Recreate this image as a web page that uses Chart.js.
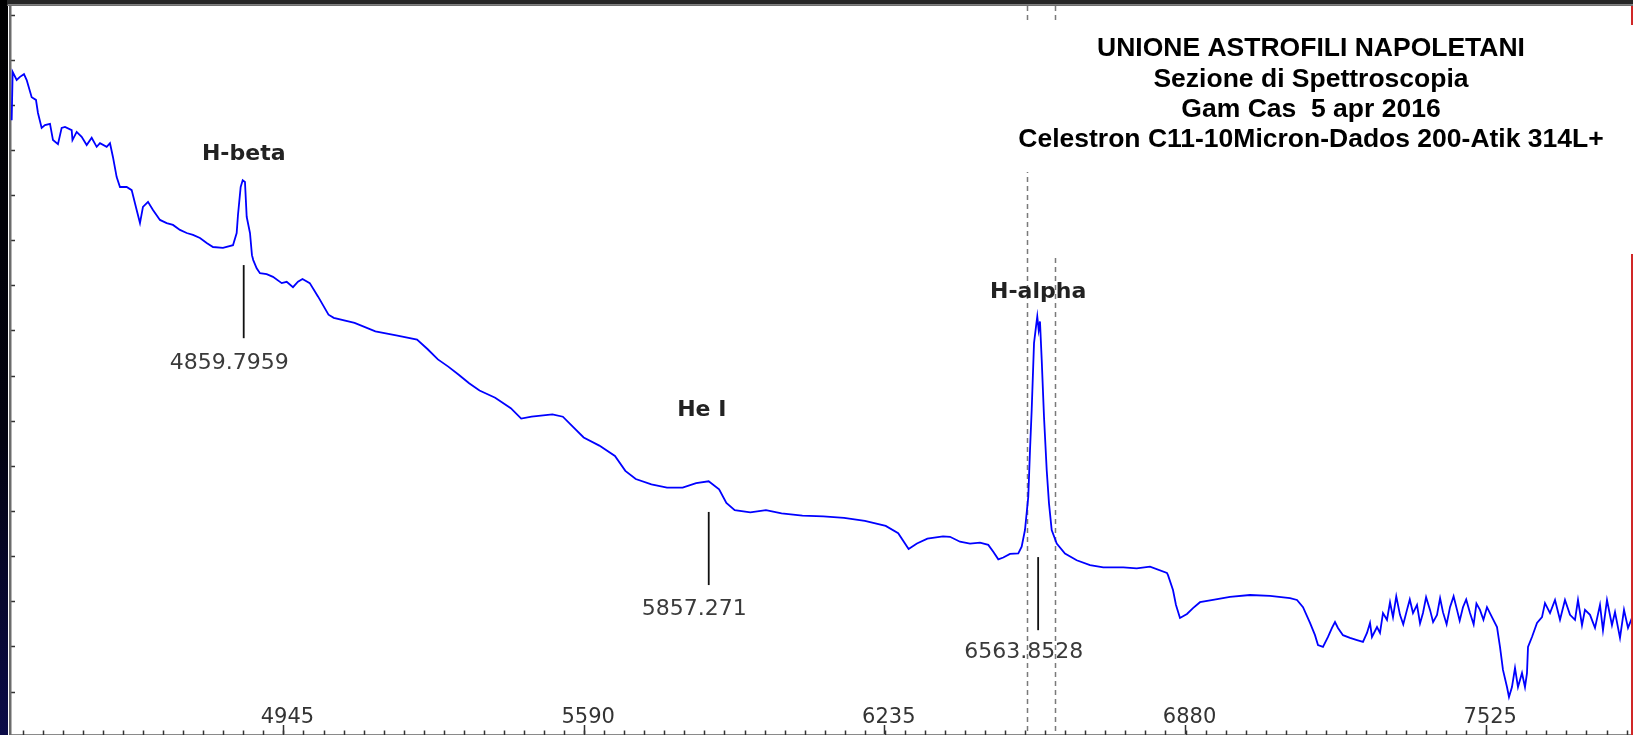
<!DOCTYPE html>
<html>
<head>
<meta charset="utf-8">
<title>Gam Cas 5 apr 2016</title>
<script src="https://cdn.jsdelivr.net/npm/chart.js@4.4.1/dist/chart.umd.min.js"></script>
<style>
  html, body { margin: 0; padding: 0; background: #000; }
  #spectrum { display: block; }
</style>
</head>
<body>
<canvas id="spectrum" width="1633" height="735"></canvas>
<script>
// spectrum: wavelength (A) and relative flux
const wavelength = [
  4362.1, 4364.2, 4372.8, 4379.9, 4388.5, 4394.3, 4405.0, 4414.2, 4418.5, 4426.4,
  4433.5, 4444.3, 4450.7, 4461.4, 4469.3, 4476.4, 4490.8, 4492.5, 4501.5, 4512.2,
  4523.0, 4533.7, 4544.4, 4551.5, 4565.9, 4573.0, 4579.4, 4587.3, 4594.4, 4608.8,
  4619.5, 4630.2, 4637.3, 4643.7, 4654.5, 4665.2, 4680.2, 4694.6, 4708.1, 4723.1,
  4737.5, 4751.0, 4766.0, 4780.4, 4793.9, 4815.3, 4836.8, 4844.7, 4847.5, 4853.3,
  4857.6, 4862.5, 4866.2, 4873.3, 4877.5, 4880.3, 4887.6, 4894.7, 4909.1, 4922.6,
  4941.3, 4952.0, 4965.5, 4976.2, 4985.9, 5001.5, 5019.4, 5041.7, 5052.9, 5097.6,
  5142.2, 5186.9, 5231.6, 5253.9, 5276.3, 5298.6, 5321.0, 5343.3, 5365.6, 5399.2,
  5432.7, 5455.0, 5477.3, 5522.0, 5544.4, 5566.7, 5589.0, 5622.6, 5656.1, 5678.4,
  5700.7, 5734.3, 5767.8, 5801.3, 5830.3, 5857.1, 5879.5, 5895.1, 5913.0, 5946.5,
  5980.0, 6013.5, 6058.2, 6102.9, 6147.5, 6192.2, 6236.9, 6263.7, 6286.0, 6303.9,
  6326.3, 6359.8, 6374.8, 6396.2, 6417.7, 6439.1, 6456.9, 6467.6, 6478.4, 6489.1,
  6503.5, 6521.3, 6528.5, 6535.6, 6542.7, 6546.4, 6550.0, 6555.0, 6559.2, 6562.0,
  6565.0, 6567.8, 6571.5, 6576.4, 6582.2, 6587.1, 6592.9, 6603.7, 6621.4, 6646.5,
  6675.1, 6703.6, 6746.5, 6775.3, 6803.8, 6840.1, 6842.4, 6853.1, 6859.5, 6868.1,
  6883.1, 6896.0, 6911.0, 6938.9, 6975.4, 7018.3, 7061.2, 7104.1, 7119.1, 7132.0,
  7147.0, 7157.7, 7164.1, 7174.8, 7185.6, 7194.1, 7200.6, 7207.0, 7217.7, 7232.8,
  7247.8, 7260.6, 7269.2, 7275.7, 7279.9, 7290.7, 7297.1, 7303.5, 7312.1, 7318.6,
  7325.0, 7332.0, 7340.0, 7347.0, 7355.0, 7361.0, 7367.9, 7376.5, 7383.0, 7389.3,
  7396.0, 7404.4, 7411.0, 7419.4, 7426.0, 7432.2, 7440.0, 7447.3, 7455.0, 7462.3,
  7468.0, 7475.1, 7482.0, 7490.2, 7498.0, 7504.0, 7511.6, 7519.0, 7526.6, 7537.3,
  7548.1, 7554.5, 7560.9, 7569.5, 7573.8, 7580.2, 7586.7, 7593.1, 7601.7, 7608.1,
  7612.4, 7614.6, 7623.1, 7633.9, 7644.6, 7651.0, 7661.8, 7672.5, 7683.2, 7693.9,
  7704.7, 7715.4, 7721.8, 7730.4, 7736.8, 7747.6, 7758.3, 7769.0, 7775.4, 7784.0,
  7794.7, 7801.2, 7811.9, 7820.5, 7829.1, 7837.6, 7841.0
];
const flux = [
  1.267, 1.374, 1.356, 1.363, 1.369, 1.356, 1.318, 1.312, 1.283, 1.250,
  1.256, 1.259, 1.223, 1.214, 1.250, 1.252, 1.245, 1.223, 1.241, 1.230,
  1.212, 1.228, 1.208, 1.216, 1.208, 1.216, 1.185, 1.141, 1.119, 1.119,
  1.112, 1.068, 1.039, 1.075, 1.086, 1.068, 1.046, 1.039, 1.035, 1.024,
  1.017, 1.013, 1.006, 0.995, 0.986, 0.984, 0.990, 1.017, 1.057, 1.119,
  1.134, 1.130, 1.053, 1.017, 0.968, 0.957, 0.939, 0.928, 0.926, 0.920,
  0.906, 0.909, 0.897, 0.909, 0.915, 0.906, 0.876, 0.836, 0.829, 0.818,
  0.799, 0.790, 0.781, 0.760, 0.737, 0.721, 0.703, 0.684, 0.668, 0.652,
  0.629, 0.606, 0.610, 0.615, 0.610, 0.587, 0.564, 0.546, 0.523, 0.490,
  0.472, 0.460, 0.453, 0.453, 0.463, 0.467, 0.449, 0.419, 0.403, 0.398,
  0.403, 0.396, 0.391, 0.389, 0.386, 0.379, 0.368, 0.352, 0.317, 0.329,
  0.340, 0.345, 0.344, 0.333, 0.329, 0.331, 0.326, 0.311, 0.294, 0.298,
  0.306, 0.307, 0.322, 0.359, 0.433, 0.536, 0.625, 0.773, 0.809, 0.832,
  0.802, 0.821, 0.736, 0.610, 0.492, 0.418, 0.359, 0.329, 0.307, 0.292,
  0.281, 0.276, 0.276, 0.274, 0.278, 0.264, 0.259, 0.226, 0.193, 0.164,
  0.173, 0.186, 0.199, 0.204, 0.211, 0.215, 0.213, 0.208, 0.204, 0.188,
  0.153, 0.126, 0.104, 0.100, 0.122, 0.142, 0.155, 0.142, 0.126, 0.120,
  0.115, 0.111, 0.131, 0.153, 0.122, 0.144, 0.131, 0.175, 0.160, 0.199,
  0.166, 0.212, 0.171, 0.150, 0.182, 0.205, 0.175, 0.193, 0.152, 0.175,
  0.210, 0.182, 0.155, 0.171, 0.208, 0.177, 0.150, 0.188, 0.212, 0.182,
  0.158, 0.188, 0.205, 0.175, 0.150, 0.196, 0.182, 0.160, 0.188, 0.166,
  0.144, 0.100, 0.049, 0.011, -0.011, 0.011, 0.053, 0.011, 0.042, 0.011,
  0.042, 0.100, 0.122, 0.153, 0.166, 0.197, 0.175, 0.204, 0.160, 0.204,
  0.171, 0.160, 0.204, 0.148, 0.182, 0.171, 0.142, 0.193, 0.137, 0.204,
  0.148, 0.177, 0.120, 0.182, 0.142, 0.164, 0.150
];

// axes
const X_MIN = 4358.5, X_MAX = 7839.8;
const Y_MIN = -0.093, Y_MAX = 1.520;
const xTicks = [4945, 5590, 6235, 6880, 7525];
const MINOR_STEP = 43;
const yTicks = [0, 0.1, 0.2, 0.3, 0.4, 0.5, 0.6, 0.7, 0.8, 0.9, 1.0, 1.1, 1.2, 1.3, 1.4, 1.5];

// identified lines
const lineNames = ['H-beta', 'He I', 'H-alpha'];
const lineWaves = [4859.7959, 5857.271, 6563.8528];
const lineLabels = ['4859.7959', '5857.271', '6563.8528'];
const nameFlux = [1.178, 0.611, 0.872];
const nameShift = [0, -7, 0];
const markTopFlux = [0.946, 0.399, 0.299];
const markBottomFlux = [0.784, 0.237, 0.137];
const numberFlux = [0.716, 0.171, 0.075];

// dashed cursor lines
const cursorWaves = [6540, 6600];

const titleLines = [
  'UNIONE ASTROFILI NAPOLETANI',
  'Sezione di Spettroscopia',
  'Gam Cas  5 apr 2016',
  'Celestron C11-10Micron-Dados 200-Atik 314L+'
];

const decor = {
  id: 'decor',
  beforeDraw(chart) {
    const ctx = chart.ctx, w = chart.width, h = chart.height;
    ctx.save();
    ctx.fillStyle = '#fff';
    ctx.fillRect(0, 0, w, h);
    // dark strip on the left
    const g = ctx.createLinearGradient(0, 0, 0, h);
    g.addColorStop(0, '#000');
    g.addColorStop(0.6, '#020210');
    g.addColorStop(1, '#0b0b48');
    ctx.fillStyle = g;
    ctx.fillRect(0, 0, 8, h);
    // window border on top
    ctx.fillStyle = '#262626';
    ctx.fillRect(7, 0, w - 7, 4.5);
    ctx.fillStyle = '#6e6e6e';
    ctx.fillRect(7, 4.5, w - 7, 1.5);
    ctx.restore();
  },
  beforeDatasetsDraw(chart) {
    const ctx = chart.ctx, a = chart.chartArea;
    const xs = chart.scales.x, ys = chart.scales.y;
    ctx.save();
    // minor ticks of the wavelength axis
    ctx.strokeStyle = '#333';
    ctx.lineWidth = 1.5;
    for (let v = Math.ceil(X_MIN / MINOR_STEP) * MINOR_STEP; v <= X_MAX; v += MINOR_STEP) {
      const px = Math.round(xs.getPixelForValue(v)) + 0.5;
      ctx.beginPath();
      ctx.moveTo(px, a.bottom + 1);
      ctx.lineTo(px, a.bottom - 3.5);
      ctx.stroke();
    }
    // cursor lines
    ctx.strokeStyle = '#7a7a7a';
    ctx.lineWidth = 1.5;
    ctx.setLineDash([5, 4]);
    cursorWaves.forEach(v => {
      const px = Math.round(xs.getPixelForValue(v)) + 0.5;
      ctx.beginPath();
      ctx.moveTo(px, a.top);
      ctx.lineTo(px, a.bottom);
      ctx.stroke();
    });
    ctx.setLineDash([]);
    // boxes of the caption hide part of them
    ctx.fillStyle = '#fff';
    ctx.fillRect(1010, 23, 623, 149);
    ctx.fillRect(1040, 23, 593, 232);

    // line markers and labels
    ctx.strokeStyle = '#111';
    ctx.lineWidth = 1.8;
    lineWaves.forEach((v, i) => {
      const px = xs.getPixelForValue(v);
      ctx.beginPath();
      ctx.moveTo(px, ys.getPixelForValue(markTopFlux[i]));
      ctx.lineTo(px, ys.getPixelForValue(markBottomFlux[i]));
      ctx.stroke();

      ctx.textAlign = 'center';
      ctx.textBaseline = 'alphabetic';
      ctx.fillStyle = '#222';
      ctx.font = 'bold 22px "DejaVu Sans"';
      ctx.fillText(lineNames[i], px + nameShift[i], ys.getPixelForValue(nameFlux[i]));
      ctx.fillStyle = '#3a3a3a';
      ctx.font = '22px "DejaVu Sans"';
      ctx.fillText(lineLabels[i], px - 14.5, ys.getPixelForValue(numberFlux[i]));
    });
    ctx.restore();
  },
  afterDatasetsDraw(chart) {
    const ctx = chart.ctx, h = chart.height;
    ctx.save();
    // red marker at the right edge
    ctx.fillStyle = '#d02828';
    ctx.fillRect(1631, 6, 2, 19);
    ctx.fillRect(1631, 254, 2, h - 254);
    // caption
    ctx.fillStyle = '#000';
    ctx.textAlign = 'center';
    ctx.textBaseline = 'alphabetic';
    ctx.font = 'bold 26.5px "Liberation Sans", Arial, sans-serif';
    const base = [56, 86.5, 117, 147];
    titleLines.forEach((t, i) => ctx.fillText(t, 1311, base[i]));
    ctx.restore();
  }
};

new Chart(document.getElementById('spectrum'), {
  type: 'line',
  data: {
    datasets: [{
      data: wavelength.map((w, i) => ({ x: w, y: flux[i] })),
      borderColor: '#0000ff',
      borderWidth: 1.8,
      pointRadius: 0,
      tension: 0,
      fill: false,
      xAxisID: 'x',
      yAxisID: 'y'
    }]
  },
  options: {
    responsive: false,
    animation: false,
    layout: { padding: { top: 6, left: 0, right: 0, bottom: 0 } },
    plugins: {
      legend: { display: false },
      tooltip: { enabled: false }
    },
    scales: {
      x: {
        type: 'linear',
        position: 'bottom',
        min: X_MIN,
        max: X_MAX,
        afterBuildTicks: s => { s.ticks = xTicks.map(v => ({ value: v })); },
        afterFit: s => { s.height = 1; },
        border: { display: true, color: '#8a8a8a', width: 1 },
        grid: { drawOnChartArea: false, drawTicks: true, tickLength: -9, tickColor: '#333', tickWidth: 1.5 },
        ticks: {
          autoSkip: false,
          maxRotation: 0,
          mirror: true,
          padding: 4,
          labelOffset: 4,
          color: '#333',
          font: { family: 'DejaVu Sans', size: 21 },
          callback: v => String(v)
        }
      },
      y: {
        type: 'linear',
        position: 'left',
        min: Y_MIN,
        max: Y_MAX,
        afterBuildTicks: s => { s.ticks = yTicks.map(v => ({ value: v })); },
        afterFit: s => { s.width = 10; },
        border: { display: true, color: '#6b6b6b', width: 2.5 },
        grid: { drawOnChartArea: false, drawTicks: true, tickLength: -5, tickColor: '#333', tickWidth: 1.5 },
        ticks: { display: false }
      }
    }
  },
  plugins: [decor]
});
</script>
</body>
</html>
